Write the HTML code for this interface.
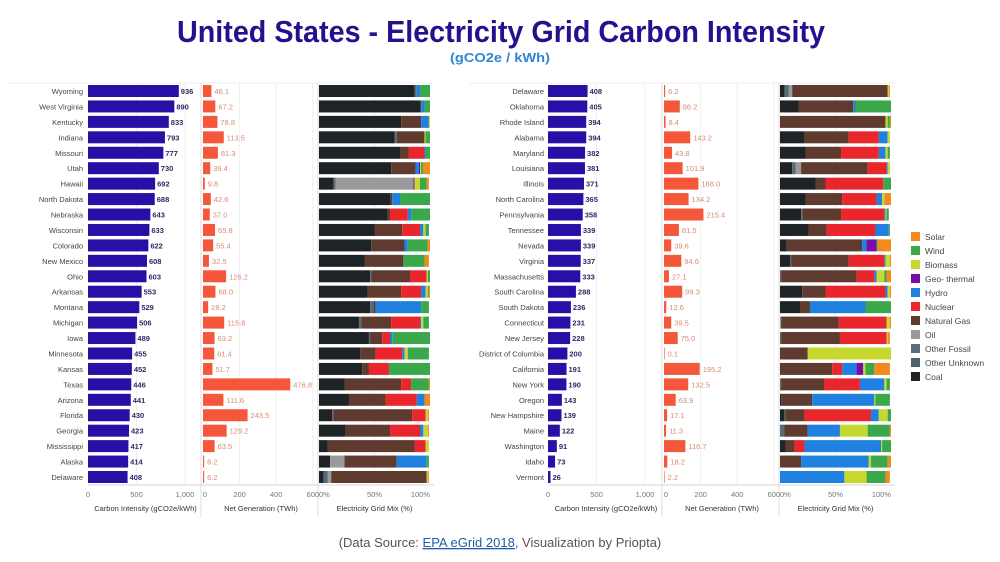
<!DOCTYPE html>
<html><head><meta charset="utf-8">
<style>
body{margin:0;background:#fff;width:1000px;height:562px;overflow:hidden;font-family:"Liberation Sans",sans-serif;}
svg{display:block}
</style></head>
<body>
<svg id="chart" width="1000" height="562" viewBox="0 0 1000 562">
<text x="501" y="42" text-anchor="middle" font-size="31" font-weight="bold" fill="#23128f" textLength="648" lengthAdjust="spacingAndGlyphs">United States - Electricity Grid Carbon Intensity</text>
<text x="500" y="62" text-anchor="middle" font-size="13" font-weight="bold" fill="#2f86d6" textLength="100" lengthAdjust="spacingAndGlyphs">(gCO2e / kWh)</text>
<text x="500" y="547" text-anchor="middle" font-size="13" fill="#555">(Data Source: <tspan fill="#1f5ea8" text-decoration="underline">EPA eGrid 2018</tspan>, Visualization by Priopta)</text>
<g id="panels"></g>
<g id="legend"></g>
</svg>
<script>
const mixNames = ["Coal","Other Fossil","Oil","Natural Gas","Nuclear","Hydro","Geo- thermal","Biomass","Wind","Solar"];
const mixColors = ["#1e2326","#566b76","#9a9a9a","#5e3a2f","#e8262b","#2080e0","#7a0ba8","#c6d72e","#3aa84a","#f28a1e"];
const legendNames = ["Solar","Wind","Biomass","Geo- thermal","Hydro","Nuclear","Natural Gas","Oil","Other Fossil","Other Unknown","Coal"];
const legendColors = ["#f28a1e","#3aa84a","#c6d72e","#7a0ba8","#2080e0","#e8262b","#5e3a2f","#9a9a9a","#5a6e78","#4c6270","#1e2326"];

const leftStates = ["Wyoming","West Virginia","Kentucky","Indiana","Missouri","Utah","Hawaii","North Dakota","Nebraska","Wisconsin","Colorado","New Mexico","Ohio","Arkansas","Montana","Michigan","Iowa","Minnesota","Kansas","Texas","Arizona","Florida","Georgia","Mississippi","Alaska","Delaware"];
const leftCarbon = [936,890,833,793,777,730,692,688,643,633,622,608,603,553,529,506,489,455,452,446,441,430,423,417,414,408];
const leftNet = [46.1,67.2,78.8,113.5,81.3,39.4,9.8,42.6,37.0,65.8,55.4,32.5,126.2,68.0,28.2,115.8,63.2,61.4,51.7,476.8,111.6,243.5,129.2,63.5,6.2,6.2];
const leftMix = [
[86,2,0,0,0,3,0,0,9,0],[91,0,0,1,0,3,0,0,5,0],[74,0,0,18,0,7,0,1,0,0],[68,2,0,25,0,0,0,1,4,0],
[73,0,0,8,14,1,0,0,4,0],[65,0,0,22,0,3,1,1,2,6],[13,2,70,0,0,0,1,5,6,2],[64,0,0,2,0,7,0,0,27,0],
[62,0,0,2,16,3,0,0,17,0],[50,0,0,25,16,3,0,2,3,0],[47,0,0,30,0,3,0,0,18,2],[41,0,0,35,0,0,0,0,19,4],
[46,1,0,35,15,0,0,1,2,0],[44,0,0,30,18,4,0,2,1,1],[46,3,0,2,0,41,0,0,7,0],[36,2,0,27,26,1,0,2,5,0],
[45,1,0,11,7,2,0,0,34,0],[37,0,0,14,24,2,0,3,19,0],[39,0,0,6,18,0,0,0,37,0],[23,0,0,51,9,0,0,0,16,1],
[27,0,0,33,28,7,0,0,0,5],[12,1,0,71,12,0,0,2,0,1],[24,0,0,40,27,3,0,4,0,1],[8,0,0,78,10,0,0,3,0,0],
[10,0,13,47,0,27,0,0,2,0],[4,4,3,86,0,0,0,1,0,1]];

const rightStates = ["Delaware","Oklahoma","Rhode Island","Alabama","Maryland","Louisiana","Illinois","North Carolina","Pennsylvania","Tennessee","Nevada","Virginia","Massachusetts","South Carolina","South Dakota","Connecticut","New Jersey","District of Columbia","California","New York","Oregon","New Hampshire","Maine","Washington","Idaho","Vermont"];
const rightCarbon = [408,405,394,394,382,381,371,365,358,339,339,337,333,288,236,231,228,200,191,190,143,139,122,91,73,26];
const rightNet = [6.2,86.2,8.4,143.2,43.8,101.9,188.0,134.2,215.4,81.5,39.6,94.6,27.1,99.3,12.6,39.5,75.0,0.1,195.2,132.5,63.9,17.1,11.3,116.7,18.2,2.2];
const rightMix = [
[4,4,3,86,0,0,0,1,0,1],[17,0,0,49,0,2,0,0,32,0],[0,0,0,95,0,0,0,2,2,1],[22,0,0,40,27,8,0,2,0,0],
[23,0,0,32,34,6,0,2,2,0],[11,3,5,60,17,1,0,2,0,0],[32,0,0,9,52,0,0,0,7,0],[23,0,0,33,31,5,0,2,0,6],
[19,1,0,35,39,1,0,1,2,0],[26,0,0,16,44,12,0,0,1,0],[6,0,0,68,0,4,9,0,1,12],[9,1,0,52,32,1,0,4,0,1],
[0,1,0,68,16,2,0,7,2,4],[20,0,0,21,54,2,0,2,0,1],[18,0,0,9,0,50,0,0,23,0],[0,0,1,52,43,0,0,3,0,1],
[0,1,0,53,42,0,0,1,0,2],[0,0,0,25,0,0,0,75,0,0],[0,0,0,47,9,13,6,2,8,14],[0,1,0,39,32,22,0,2,3,0],
[1,0,0,28,0,56,0,1,13,0],[4,1,0,17,60,7,0,8,3,0],[0,4,0,21,0,29,0,25,20,1],[5,0,0,8,9,69,0,1,8,0],
[0,0,0,19,0,61,0,2,15,3],[0,0,0,0,0,58,0,20,17,4]];

const carbonTicks = [0,500,1000];
const carbonTickLabels = ["0","500","1,000"];
const netTicks = [0,200,400,600];
const mixTicks = [0,50,100];

const NS = "http://www.w3.org/2000/svg";
const root = document.getElementById("panels");
function mk(tag, attrs, parent){const e=document.createElementNS(NS,tag);for(const k in attrs)e.setAttribute(k,attrs[k]);parent.appendChild(e);return e;}

function drawPanel(cfg, states, carbon, net, mix, side){
  const g = mk("g",{},root);
  
  
  const top=83, bottom=485, y0=91, step=(477-91)/25, bh=12;
  const cx = v => cfg.c0 + v*cfg.cs;
  const nx = v => cfg.n0 + v*cfg.ns;
  const mxs = v => cfg.m0 + v*(cfg.m1-cfg.m0)/100;
  const yc = i => y0 + i*step;
  // frame lines
  mk("line",{x1:cfg.lx-75,x2:cfg.m1+4,y1:top,y2:top,stroke:"#ececec","stroke-width":1},g);
  mk("line",{x1:cfg.c0,x2:cfg.m1+4,y1:bottom,y2:bottom,stroke:"#d4d4d4","stroke-width":1},g);
  [cfg.n0-2, cfg.m0-1].forEach(x=>mk("line",{x1:x,x2:x,y1:top,y2:bottom+32,stroke:"#dddddd","stroke-width":1},g));
  // grid lines
  carbonTicks.slice(1).forEach(t=>mk("line",{x1:cx(t),x2:cx(t),y1:top,y2:bottom,stroke:"#f0f0f0"},g));
  netTicks.slice(1).forEach(t=>mk("line",{x1:nx(t),x2:nx(t),y1:top,y2:bottom,stroke:"#f0f0f0"},g));
  mk("line",{x1:mxs(50),x2:mxs(50),y1:top,y2:bottom,stroke:"#f0f0f0"},g);
  states.forEach((s,i)=>{
    const y = yc(i);
    const lab = mk("text",{x:cfg.lx,y:y+3,"text-anchor":"end","font-size":"7.5",fill:"#444"},g);
    lab.textContent = s;
    
    
    const b = mk("rect",{x:cx(0),y:y-bh/2,width:cx(carbon[i])-cx(0),height:bh,fill:"#2a0fa6"},g);
    
    
    const bt = mk("text",{x:cx(carbon[i])+2,y:y+3,"font-size":"7.5","font-weight":"bold",fill:"#2d2a66"},g);
    bt.textContent = carbon[i];
    
    
    const w = Math.max(nx(net[i])-nx(0),0.6);
    const nb = mk("rect",{x:nx(0),y:y-bh/2,width:w,height:bh,fill:"#f4573a"},g);
    
    
    const nt = mk("text",{x:nx(0)+w+3,y:y+3,"font-size":"7.5",fill:"#d98a72"},g);
    nt.textContent = net[i].toFixed(1);
    
    
    let acc = 0;
    mix[i].forEach((v,k)=>{
      if(v<=0) return;
      const seg = mk("rect",{x:mxs(acc),y:y-bh/2,width:mxs(acc+v)-mxs(acc),height:bh,fill:mixColors[k]},g);
      
      
      acc += v;
    });
  });
  // tick labels
  carbonTicks.forEach((t,j)=>{
    const e=mk("text",{x:cx(t),y:497,"text-anchor":"middle","font-size":"7.5",fill:"#777"},g);
    e.textContent=carbonTickLabels[j];
    
    
  });
  netTicks.forEach(t=>{
    const e=mk("text",{x:t===0?nx(t)+2:nx(t),y:497,"text-anchor":"middle","font-size":"7.5",fill:"#777"},g);
    e.textContent=t;
    
    
  });
  mixTicks.forEach((t,j)=>{
    const e=mk("text",{x:mxs(t),y:497,"text-anchor":j===0?"start":(j===2?"end":"middle"),"font-size":"7.5",fill:"#777"},g);
    e.textContent=t+"%";
    
    
  });
  const titles=[["Carbon Intensity (gCO2e/kWh)",(cx(0)+cfg.n0)/2],["Net Generation (TWh)",(cfg.n0+cfg.m0)/2],["Electricity Grid Mix (%)",(cfg.m0+cfg.m1)/2]];
  titles.forEach(([t,x])=>{
    const e=mk("text",{x:x,y:511,"text-anchor":"middle","font-size":"7.5",fill:"#333"},g);
    e.textContent=t;
    
    
  });
}
drawPanel({lx:83,c0:88,cs:0.097,n0:203,ns:0.183,m0:319,m1:430}, leftStates, leftCarbon, leftNet, leftMix, "left");
drawPanel({lx:544,c0:548,cs:0.097,n0:664,ns:0.183,m0:780,m1:891}, rightStates, rightCarbon, rightNet, rightMix, "right");

const lg = document.getElementById("legend");
legendNames.forEach((n,i)=>{
  const y = 237 + i*14;
  const r = mk("rect",{x:911,y:y-5,width:9,height:9,fill:legendColors[i]},lg);
  
  
  const t = mk("text",{x:925,y:y+3,"font-size":"8.5",fill:"#444"},lg);
  t.textContent = n;
  
  
});
</script>
</body></html>
